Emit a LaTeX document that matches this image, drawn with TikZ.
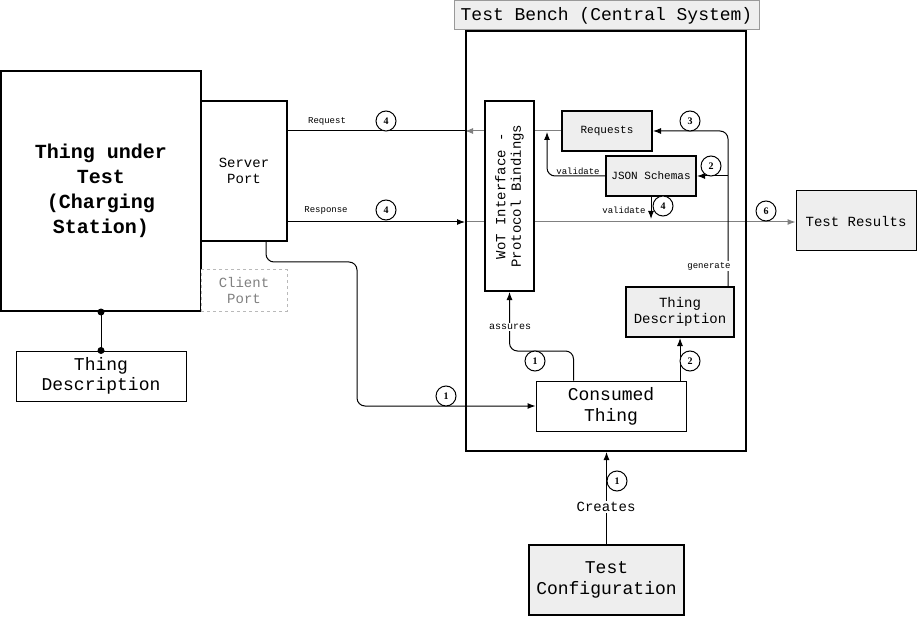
\documentclass[tikz,border=0pt]{standalone}
\usepackage{fontspec}
\setmainfont{Liberation Mono}
\newfontfamily\numfont{Liberation Serif}
\usetikzlibrary{arrows.meta,calc}
\pgfdeclarelayer{bg}
\pgfsetlayers{bg,main}
\definecolor{boxgray}{HTML}{EEEEEE}
\definecolor{linegray}{HTML}{808080}
\newcommand{\fs}[2]{\fontsize{#1}{#2}\selectfont}
\tikzset{
  box/.style={draw, line width=1pt, fill=white, inner sep=0pt, align=center},
  thickbox/.style={box, line width=2pt},
  graybox/.style={thickbox, fill=boxgray},
  arr/.style={line width=1pt, -{Latex[length=8pt,width=6pt]}},
  garr/.style={line width=1pt, draw=linegray, -{Latex[length=8pt,width=6pt,fill=linegray]}},
  lnk/.style={line width=1pt},
  num/.style={draw, circle, line width=1pt, minimum size=20pt, inner sep=0pt, fill=white, font=\numfont\bfseries\fs{10}{12}},
  lbl/.style={inner sep=1pt, fill=white, font=\fs{9}{11}},
}
\begin{document}
\begin{tikzpicture}[x=1pt,y=-1pt]
\useasboundingbox (0,0) rectangle (917,617);
% nodes
\node[draw=gray!80, line width=1pt, fill=boxgray, minimum width=305, minimum height=29, inner sep=0pt, font=\fs{18}{20}] (title) at (606.5,15.5) {Test Bench (Central System)};
\node[draw, line width=2pt, minimum width=280, minimum height=420, inner sep=0pt] (bench) at (606,241) {};
\node[thickbox, minimum width=200, minimum height=240, font=\bfseries\fs{20}{25}] (tut) at (101,191) {Thing under\\Test\\(Charging\\Station)};
\node[thickbox, minimum width=86, minimum height=140, font=\fs{14}{16}] (sp) at (244,171) {Server\\Port};
\node[box, draw=gray!55, dashed, text=gray, minimum width=86, minimum height=41, font=\fs{14}{16}] (cp) at (244,290.5) {Client\\Port};
\node[box, minimum width=170, minimum height=50, font=\fs{18}{20}] (tdl) at (101,376) {Thing\\Description};
\node[thickbox, minimum width=49, minimum height=190] (wot) at (509.5,196) {};
\node[rotate=90, align=center, inner sep=0pt, font=\fs{14}{15.5}] (wottext) at (wot.center) {WoT Interface -\\Protocol Bindings};
\node[graybox, minimum width=90, minimum height=40, font=\fs{11}{13}] (req) at (607,131) {Requests};
\node[graybox, minimum width=90, minimum height=40, font=\fs{11}{13}] (json) at (651,176) {JSON Schemas};
\node[graybox, minimum width=108, minimum height=50, font=\fs{14}{16}] (tdr) at (680,312) {Thing\\Description};
\node[box, minimum width=150, minimum height=50, font=\fs{18}{21}] (ct) at (611,406) {Consumed\\Thing};
\node[box, fill=boxgray, minimum width=120, minimum height=60, font=\fs{14}{16}] (tr) at (856,221) {Test Results};
\node[graybox, minimum width=155, minimum height=70, font=\fs{18}{21}] (tc) at (606.5,580) {Test\\Configuration};
% helper coordinates
\coordinate (resp) at (0,222);
\coordinate (vtip) at (547,132);
\coordinate (vd) at (651,219);
\coordinate (gs) at ($(tdr.north east)+(-7,0)$);
\coordinate (as) at ($(ct.north west)+(38,0)$);
\coordinate (asmid) at (542,351);
\coordinate (sps) at ($(sp.south)+(22,0)$);
\coordinate (spmid) at (357,262);
% grey lines behind
\begin{pgfonlayer}{bg}
\draw[garr] (req.west) -- (bench.west |- req.west);
\draw[garr] (bench.west |- resp) -- (tr.west |- resp);
\end{pgfonlayer}
% black connectors
\draw[lnk] (sp.east |- req.west) -- (bench.west |- req.west);
\draw[arr] (sp.east |- resp) -- (bench.west |- resp);
\draw[arr, rounded corners=8] (json.west) -| (vtip);
\draw[arr] (json.south) -- (vd);
\draw[arr, rounded corners=8] (gs) |- (req.east);
\draw[arr] (gs |- json.east) -- (json.east);
\draw[arr] (tdr.south |- ct.north) -- (tdr.south);
\draw[arr, rounded corners=8] (as) |- (asmid) -| (wot.south);
\draw[arr, rounded corners=8] (sps) |- (spmid) |- (ct.west);
\draw[arr] (tc.north) -- (bench.south -| tc.north);
\draw[lnk] (tut.south) -- (tdl.north);
\fill (tut.south) circle (3.5);
\fill (tdl.north) circle (3.5);
% labels
\node[lbl] (lreq) at (327,121) {Request};
\node[lbl] (lresp) at (326,210) {Response};
\node[lbl] (lval1) at (578,171) {validate};
\node[lbl] (lval2) at (624,210) {validate};
\node[lbl] (lgen) at (709,266) {generate};
\node[lbl, font=\fs{10}{12}] (lass) at (510,327) {assures};
\node[lbl, font=\fs{14}{16}] (lcre) at (606,507) {Creates};
% step numbers
\node[num] (n1) at (386,121) {4};
\node[num] (n2) at (386,210) {4};
\node[num] (n3) at (690,121) {3};
\node[num] (n4) at (711,166) {2};
\node[num] (n5) at (663,206) {4};
\node[num] (n6) at (766,211) {6};
\node[num] (n7) at (690,361) {2};
\node[num] (n8) at (535,361) {1};
\node[num] (n9) at (446,396) {1};
\node[num] (n10) at (617,481) {1};
\end{tikzpicture}
\end{document}
